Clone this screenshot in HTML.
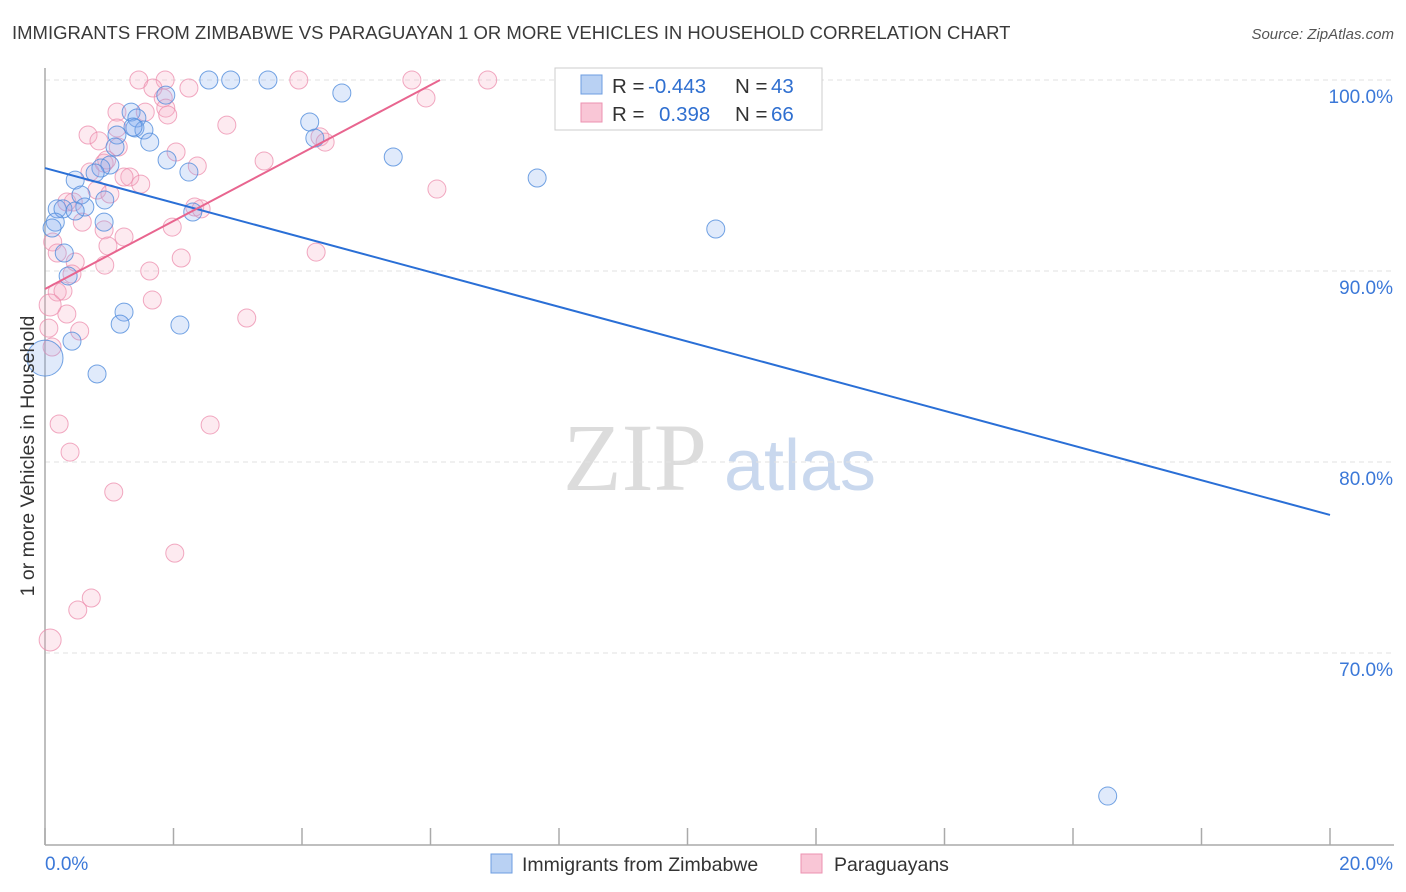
<!DOCTYPE html>
<html><head><meta charset="utf-8"><style>
html,body{margin:0;padding:0;background:#fff;}
svg{display:block;font-family:"Liberation Sans",sans-serif;}
</style></head><body>
<svg id="chart" width="1406" height="892">
<text x="12" y="39" font-size="18.5" fill="#3a3a3a">IMMIGRANTS FROM ZIMBABWE VS PARAGUAYAN 1 OR MORE VEHICLES IN HOUSEHOLD CORRELATION CHART</text>
<text x="1394" y="39" font-size="15" fill="#555" font-style="italic" text-anchor="end">Source: ZipAtlas.com</text>
<g>
<text x="635" y="490" font-size="96" fill="#dcdcdc" text-anchor="middle" font-family="Liberation Serif,serif">ZIP</text>
<text x="800" y="490" font-size="72" fill="#c9d8ee" text-anchor="middle">atlas</text>
</g>
<g id="grid"></g>
<g id="axes"></g>
<g id="marks"></g>
<g id="lines"></g>
<text transform="translate(34,456) rotate(-90)" font-size="19.5" fill="#333" text-anchor="middle">1 or more Vehicles in Household</text>
<g>
<rect x="555" y="68" width="267" height="62" fill="#fff" stroke="#ccc"/>
<rect x="581" y="75" width="21" height="19" fill="#b9d1f3" stroke="#6d9de0"/>
<rect x="581" y="103" width="21" height="19" fill="#f9c6d6" stroke="#ec92b0"/>
<text x="612" y="93" font-size="20.5" fill="#333">R = </text><text x="648" y="93" font-size="20.5" fill="#2f6fd0">-0.443</text>
<text x="735" y="93" font-size="20.5" fill="#333">N = </text><text x="771" y="93" font-size="20.5" fill="#2f6fd0">43</text>
<text x="612" y="121" font-size="20.5" fill="#333">R = </text><text x="659" y="121" font-size="20.5" fill="#2f6fd0">0.398</text>
<text x="735" y="121" font-size="20.5" fill="#333">N = </text><text x="771" y="121" font-size="20.5" fill="#2f6fd0">66</text>
</g>
<g>
<rect x="491" y="854" width="21" height="19" fill="#b9d1f3" stroke="#6d9de0"/>
<text x="522" y="871" font-size="19.5" fill="#333">Immigrants from Zimbabwe</text>
<rect x="801" y="854" width="21" height="19" fill="#f9c6d6" stroke="#ec92b0"/>
<text x="834" y="871" font-size="19.5" fill="#333">Paraguayans</text>
</g>
</svg>
<script>
const yTicks = [100, 90, 80, 70];
const yTickLabels = ["100.0%", "90.0%", "80.0%", "70.0%"];
const xTickLabels = ["0.0%", "20.0%"];
const blueX = [2.55,2.89,3.47,4.62,1.88,1.34,1.43,1.12,1.40,1.54,1.63,1.09,4.12,4.20,5.42,1.90,1.01,0.87,0.78,0.47,7.66,2.24,0.56,0.93,0.19,0.28,0.62,0.47,0.92,2.30,0.16,0.11,0.30,0.36,10.44,1.23,1.17,2.10,0.42,0.00,0.81,16.54,1.37];
const blueY = [100,100,100,99.32,99.21,98.32,98.01,97.12,97.49,97.38,96.75,96.49,97.80,96.96,95.97,95.81,95.55,95.39,95.13,94.76,94.87,95.18,93.98,93.72,93.25,93.25,93.35,93.14,92.56,93.09,92.56,92.25,90.94,89.74,92.20,87.85,87.22,87.17,86.33,85.44,84.61,62.51,97.54];
const pinkX = [1.46,1.87,3.95,5.71,6.89,1.68,2.24,1.84,5.93,1.56,1.88,1.91,1.12,1.12,0.67,0.84,2.83,2.04,2.37,3.41,0.92,0.70,1.32,1.49,1.23,4.28,4.36,6.10,0.81,1.01,0.34,0.44,2.33,2.43,0.58,1.98,0.92,1.23,0.98,0.12,0.19,0.47,0.93,0.42,1.63,2.12,4.22,0.19,0.28,1.67,0.34,3.14,0.06,0.54,0.11,0.22,2.57,0.39,1.07,2.02,0.72,0.51,0.08,1.14,0.96,0.08];
const pinkY = [100,100,100,100,100,99.58,99.58,99.06,99.06,98.32,98.53,98.17,98.32,97.49,97.12,96.81,97.64,96.23,95.50,95.76,95.65,95.18,94.92,94.55,94.92,97.02,96.75,94.29,94.24,94.03,93.61,93.61,93.35,93.25,92.56,92.30,92.15,91.78,91.31,91.52,90.94,90.47,90.31,89.84,90.00,90.68,90.99,88.90,88.95,88.48,87.75,87.54,87.01,86.86,86.02,81.99,81.94,80.52,78.43,75.23,72.88,72.25,70.68,96.49,95.81,88.22];
const blueTrend = [95.39, 77.23];
const pinkTrend = [89.06, 100, 6.148];

const NS = "http://www.w3.org/2000/svg";
const X0 = 45, X1 = 1330, XMIN = 0, XMAX = 20;
const Y100 = 80, PXPER = 19.1;
function sx(v){ return X0 + (v - XMIN) / (XMAX - XMIN) * (X1 - X0); }
function sy(v){ return Y100 + (100 - v) * PXPER; }
function mk(tag, attrs, parent){ const e = document.createElementNS(NS, tag); for (const k in attrs) e.setAttribute(k, attrs[k]); parent.appendChild(e); return e; }

const grid = document.getElementById('grid');
const axes = document.getElementById('axes');
yTicks.forEach((t, i) => {
  const l = mk('line', {x1: X0, x2: 1394, y1: sy(t), y2: sy(t), stroke: '#e2e2e2', 'stroke-dasharray': '5,4'}, grid);
  
  
  const tx = mk('text', {x: 1393, y: sy(t) + 23, 'font-size': 19, fill: '#3b78d8', 'text-anchor': 'end'}, axes);
  tx.textContent = yTickLabels[i];
  
  
});
const yax = mk('line', {x1: X0, x2: X0, y1: 68, y2: 845, stroke: '#aaa', 'stroke-width': 1.5}, axes);


const xax = mk('line', {x1: X0, x2: 1394, y1: 845, y2: 845, stroke: '#aaa', 'stroke-width': 1.5}, axes);


for (let i = 0; i <= 10; i++) {
  const t = mk('line', {x1: sx(i * 2), x2: sx(i * 2), y1: 828, y2: 845, stroke: '#aaa', 'stroke-width': 1.5}, axes);
  
  
}
const xl0 = mk('text', {x: X0, y: 870, 'font-size': 19, fill: '#3b78d8'}, axes);
xl0.textContent = xTickLabels[0];


const xl1 = mk('text', {x: 1393, y: 870, 'font-size': 19, fill: '#3b78d8', 'text-anchor': 'end'}, axes);
xl1.textContent = xTickLabels[1];



const marks = document.getElementById('marks');
pinkX.forEach((x, i) => {
  const big = (x < 0.1 && (pinkY[i] < 71 || pinkY[i] < 89 && pinkY[i] > 88)) ? 11 : 9;
  const c = mk('circle', {cx: sx(x), cy: sy(pinkY[i]), r: big, fill: 'rgba(246,170,196,0.25)', stroke: 'rgba(236,140,172,0.75)', 'stroke-width': 1}, marks);
  
  
});
blueX.forEach((x, i) => {
  const r = (x === 0) ? 18 : 9;
  const c = mk('circle', {cx: sx(x), cy: sy(blueY[i]), r: r, fill: 'rgba(130,172,238,0.25)', stroke: 'rgba(80,140,220,0.8)', 'stroke-width': 1}, marks);
  
  
});
const lines = document.getElementById('lines');
const bl = mk('line', {x1: sx(0), y1: sy(blueTrend[0]), x2: sx(20), y2: sy(blueTrend[1]), stroke: '#2a6fd6', 'stroke-width': 2}, lines);


const pl = mk('line', {x1: sx(0), y1: sy(pinkTrend[0]), x2: sx(pinkTrend[2]), y2: sy(pinkTrend[1]), stroke: '#e8658f', 'stroke-width': 2}, lines);


</script>
</body></html>
